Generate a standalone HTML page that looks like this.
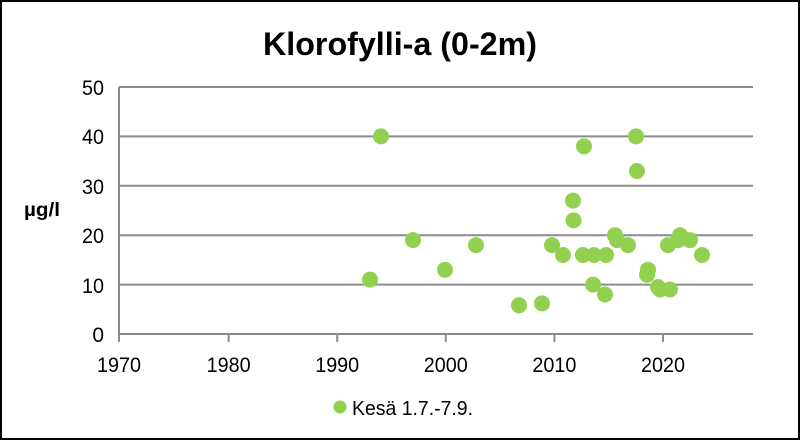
<!DOCTYPE html>
<html><head><meta charset="utf-8"><style>
html,body{margin:0;padding:0;background:#fff;}
svg{display:block;}
text{font-family:"Liberation Sans",sans-serif;fill:#000;}
</style></head><body>
<svg width="800" height="440" viewBox="0 0 800 440">
<rect x="1" y="1" width="798" height="438" fill="#fff" stroke="#000" stroke-width="2"/>
<text x="400" y="55" font-size="32" font-weight="bold" text-anchor="middle" textLength="274" lengthAdjust="spacingAndGlyphs">Klorofylli-a (0-2m)</text>
<g stroke="#8c8c8c" stroke-width="2">
<line x1="119" y1="87" x2="753" y2="87"/>
<line x1="119" y1="136.4" x2="753" y2="136.4"/>
<line x1="119" y1="185.8" x2="753" y2="185.8"/>
<line x1="119" y1="235.2" x2="753" y2="235.2"/>
<line x1="119" y1="284.6" x2="753" y2="284.6"/>
<line x1="119" y1="334" x2="753" y2="334"/>
<line x1="119" y1="87" x2="119" y2="342"/>
<line x1="228.6" y1="334" x2="228.6" y2="342"/>
<line x1="337.2" y1="334" x2="337.2" y2="342"/>
<line x1="445.8" y1="334" x2="445.8" y2="342"/>
<line x1="554.4" y1="334" x2="554.4" y2="342"/>
<line x1="663" y1="334" x2="663" y2="342"/>
</g>
<g font-size="21" text-anchor="end">
<text x="104" y="95" textLength="22" lengthAdjust="spacingAndGlyphs">50</text>
<text x="104" y="144" textLength="22" lengthAdjust="spacingAndGlyphs">40</text>
<text x="104" y="194" textLength="22" lengthAdjust="spacingAndGlyphs">30</text>
<text x="104" y="243" textLength="22" lengthAdjust="spacingAndGlyphs">20</text>
<text x="104" y="293" textLength="22" lengthAdjust="spacingAndGlyphs">10</text>
<text x="104" y="342">0</text>
</g>
<g font-size="21" text-anchor="middle">
<text x="119" y="372" textLength="44" lengthAdjust="spacingAndGlyphs">1970</text>
<text x="228.6" y="372" textLength="44" lengthAdjust="spacingAndGlyphs">1980</text>
<text x="337.2" y="372" textLength="44" lengthAdjust="spacingAndGlyphs">1990</text>
<text x="445.8" y="372" textLength="44" lengthAdjust="spacingAndGlyphs">2000</text>
<text x="554.4" y="372" textLength="44" lengthAdjust="spacingAndGlyphs">2010</text>
<text x="663" y="372" textLength="44" lengthAdjust="spacingAndGlyphs">2020</text>
</g>
<text x="24" y="216" font-size="19" font-weight="bold" textLength="36" lengthAdjust="spacingAndGlyphs">µg/l</text>
<g fill="#92d050">
<circle cx="370" cy="279.6" r="8"/>
<circle cx="381" cy="136.4" r="8"/>
<circle cx="413" cy="240.1" r="8"/>
<circle cx="445" cy="269.8" r="8"/>
<circle cx="476" cy="245.1" r="8"/>
<circle cx="519" cy="305.3" r="8"/>
<circle cx="542" cy="303.4" r="8"/>
<circle cx="552" cy="245.1" r="8"/>
<circle cx="563" cy="255" r="8"/>
<circle cx="573" cy="200.6" r="8"/>
<circle cx="573.5" cy="220.4" r="8"/>
<circle cx="583" cy="255" r="8"/>
<circle cx="584" cy="146.3" r="8"/>
<circle cx="593" cy="284.6" r="8"/>
<circle cx="594" cy="255" r="8"/>
<circle cx="605" cy="294.5" r="8"/>
<circle cx="606" cy="255" r="8"/>
<circle cx="615" cy="235.2" r="8"/>
<circle cx="617" cy="240.1" r="8"/>
<circle cx="628" cy="245.1" r="8"/>
<circle cx="636" cy="136.4" r="8"/>
<circle cx="637" cy="171" r="8"/>
<circle cx="648" cy="269.8" r="8"/>
<circle cx="647" cy="274.7" r="8"/>
<circle cx="658" cy="287" r="8"/>
<circle cx="660" cy="289.5" r="8"/>
<circle cx="670" cy="289.5" r="8"/>
<circle cx="668" cy="245.1" r="8"/>
<circle cx="680" cy="235.2" r="8"/>
<circle cx="678" cy="240.1" r="8"/>
<circle cx="690" cy="240.1" r="8"/>
<circle cx="702" cy="255" r="8"/>
<circle cx="340" cy="407" r="6.5"/>
</g>
<text x="352" y="415" font-size="20" textLength="121" lengthAdjust="spacingAndGlyphs">Kesä 1.7.-7.9.</text>
</svg>
</body></html>
